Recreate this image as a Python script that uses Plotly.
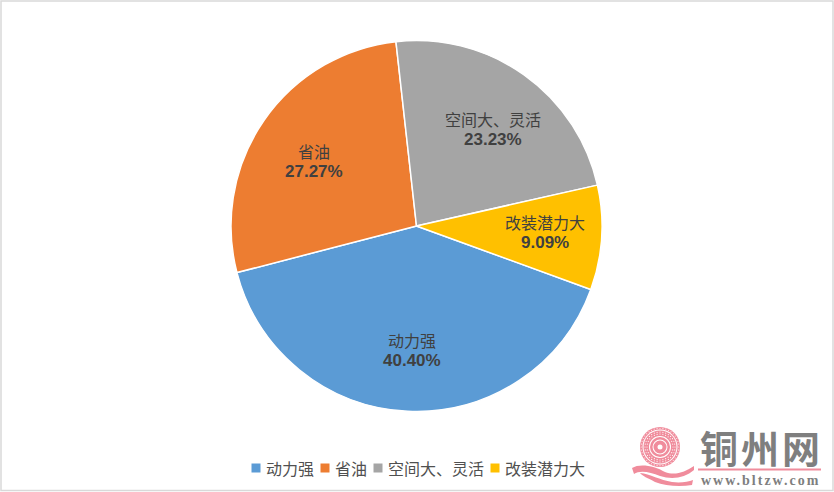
import math
import plotly.graph_objects as go

categories = ["动力强", "省油", "空间大、灵活", "改装潜力大"]
values = [40.40, 27.27, 23.23, 9.09]
colors = ["#5B9BD5", "#ED7D31", "#A5A5A5", "#FFC000"]
label_centres = [(412, 350), (314, 161), (493, 129), (545, 232)]
W, H = 834, 492
FONT = "Noto Sans CJK SC"


def X(v):
    return v / W


def Y(v):
    return 1 - v / H


fig = go.Figure(go.Pie(
    labels=categories, values=values, sort=False, direction="clockwise", rotation=110,
    marker=dict(colors=colors, line=dict(color="white", width=1.5)),
    textinfo="none", hoverinfo="label+percent",
    domain=dict(x=[X(231), X(602)], y=[Y(412), Y(40)]),
))

shapes = [dict(type="rect", xref="paper", yref="paper", x0=X(1), x1=X(833), y0=Y(1), y1=Y(490.5),
               line=dict(color="#D9D9D9", width=1.5), fillcolor="rgba(0,0,0,0)")]
annotations = []
total = sum(values)

# slice labels: name and share on two rows
for name, v, (cx, cy) in zip(categories, values, label_centres):
    annotations.append(dict(
        text=name, x=X(cx), y=Y(cy - 10.5), xref="paper", yref="paper",
        showarrow=False, xanchor="center", yanchor="middle",
        font=dict(family=FONT, size=16, color="#404040")))
    annotations.append(dict(
        text=f"<b>{v / total:.2%}</b>", x=X(cx), y=Y(cy + 10.5), xref="paper", yref="paper",
        showarrow=False, xanchor="center", yanchor="middle",
        font=dict(family="Liberation Sans", size=17, color="#404040")))

# legend row
lx = 251.5
for name, c in zip(categories, colors):
    shapes.append(dict(type="rect", xref="paper", yref="paper", x0=X(lx), x1=X(lx + 9),
                       y0=Y(472.5), y1=Y(463.5), fillcolor=c, line=dict(width=0)))
    annotations.append(dict(text=name, x=X(lx + 14), y=Y(468), xref="paper", yref="paper",
                            showarrow=False, xanchor="left", yanchor="middle", xshift=-2,
                            font=dict(family=FONT, size=16, color="#505050")))
    lx += 14 + 16 * len(name) + 7

# watermark
pink = "#F08C9C"
cx0, cy0 = 660, 447
for r, fill in [(20, pink), (17.5, "white"), (16.5, pink), (11, "white"), (10, pink), (7.5, "white"), (6.5, pink), (2.5, "white")]:
    shapes.append(dict(type="circle", xref="paper", yref="paper",
                       x0=X(cx0 - r), x1=X(cx0 + r), y0=Y(cy0 + r), y1=Y(cy0 - r),
                       fillcolor=fill, line=dict(width=0)))
for r, n, d in [(18.8, 40, 0.55), (15, 32, 0.6), (13, 28, 0.6)]:
    for i in range(n):
        a = 2 * math.pi * i / n
        px, py = cx0 + r * math.cos(a), cy0 + r * math.sin(a)
        shapes.append(dict(type="circle", xref="paper", yref="paper",
                           x0=X(px - d), x1=X(px + d), y0=Y(py + d), y1=Y(py - d),
                           fillcolor="white", line=dict(width=0)))


def wave(*pts):
    s = f"M {X(pts[0][0])} {Y(pts[0][1])}"
    for seg in pts[1:]:
        if len(seg) == 2:
            s += f" L {X(seg[0])} {Y(seg[1])}"
        else:
            s += f" C {X(seg[0])} {Y(seg[1])}, {X(seg[2])} {Y(seg[3])}, {X(seg[4])} {Y(seg[5])}"
    return s + " Z"


ribbon = [
    wave((632, 468), (640, 463, 655, 466, 665, 472), (675, 476, 685, 472, 694, 466), (694, 470),
         (685, 478, 672, 480, 660, 476), (650, 472, 640, 470, 634, 474)),
    wave((640, 473), (650, 474, 660, 480, 672, 482), (680, 483, 688, 482, 693, 480), (692, 485),
         (680, 487, 665, 486, 655, 482), (648, 478, 642, 476, 640, 473)),
]
for p in ribbon:
    shapes.append(dict(type="path", xref="paper", yref="paper", path=p, fillcolor=pink, line=dict(width=0)))
shapes.append(dict(type="rect", xref="paper", yref="paper", x0=X(698), x1=X(821), y0=Y(470.5), y1=Y(468.5),
                   fillcolor=pink, line=dict(width=0)))
annotations += [
    dict(text="<b><span style='letter-spacing:3px'>铜州网</span></b>", x=X(761), y=Y(446),
         xref="paper", yref="paper", showarrow=False, xanchor="center", yanchor="middle",
         font=dict(family=FONT, size=38, color="#7F7F7F")),
    dict(text="<b><span style='letter-spacing:2px'>www.bltzw.com</span></b>", x=X(760), y=Y(480.5),
         xref="paper", yref="paper", showarrow=False, xanchor="center", yanchor="middle",
         font=dict(family="Liberation Serif", size=14, color="#7F7F7F")),
]

fig.update_layout(
    width=W, height=H, margin=dict(l=0, r=0, t=0, b=0),
    paper_bgcolor="white", plot_bgcolor="white",
    font=dict(family=FONT, color="#595959"),
    showlegend=False, shapes=shapes, annotations=annotations,
)
fig.write_html("out.html", config={"displayModeBar": False}, post_script="document.body.style.margin='0';")
